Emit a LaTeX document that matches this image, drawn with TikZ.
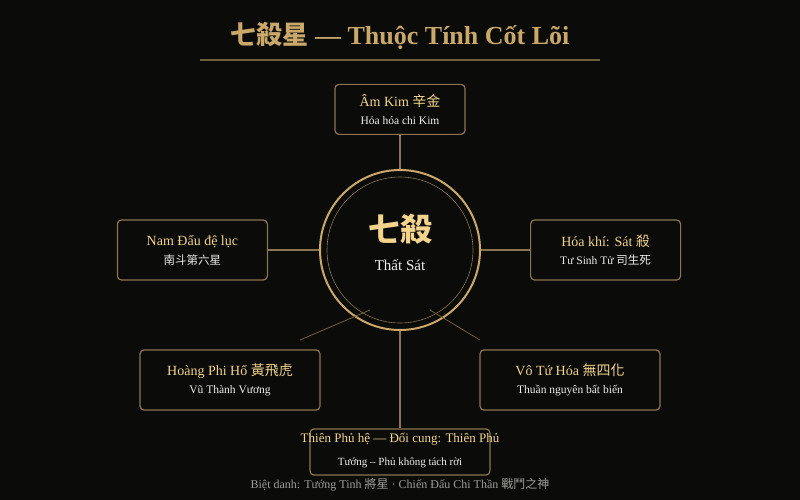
\documentclass[tikz,border=0pt]{standalone}
\usepackage{fontspec}
\setmainfont{Liberation Serif}
\newfontfamily\cjk{Noto Sans CJK TC}
\usetikzlibrary{positioning}
\definecolor{bgdark}{HTML}{0B0B09}
\definecolor{gold}{HTML}{C9A86A}
\definecolor{goldlt}{HTML}{F2D48C}
\definecolor{golddim}{HTML}{8A7552}
\definecolor{linedim}{HTML}{6E5E3E}
\definecolor{paper}{HTML}{EDEDEA}
\definecolor{muted}{HTML}{9C9C98}
\newcommand{\zh}[1]{{\cjk #1}}
\newcommand{\attrtext}[2]{{\fontsize{14}{17}\selectfont\color{goldlt}#1}\\[6pt]{\fontsize{11.5}{14}\selectfont\color{paper}#2}}
\tikzset{attrbox/.style={draw=golddim, line width=1.2pt, rounded corners=4, minimum width=150pt, minimum height=60pt, align=center, inner sep=1pt}}
\tikzset{widebox/.style={attrbox, minimum width=180pt}}
\tikzset{link/.style={draw=golddim, line width=1.2pt}}
\tikzset{thinlink/.style={draw=linedim, line width=0.8pt}}
\tikzset{corering/.style={circle, draw=gold, line width=2pt, minimum size=160pt, inner sep=0pt}}

\begin{document}
\begin{tikzpicture}[x=1pt, y=-1pt]
  \fill[bgdark] (0,0) rectangle (800,500);
  \useasboundingbox (0,0) rectangle (800,500);
  % title
  \node[text=gold, font=\fontsize{26}{30}\selectfont\bfseries] (title) at (400,36) {\zh{七殺星} — Thuộc Tính Cốt Lõi};
  \draw[draw=linedim, line width=1.5pt] (200,60) coordinate (ruleL) -- (600,60) coordinate (ruleR);
  % core
  \node[corering] (core) at (400,250) {};
  \draw[draw=golddim, line width=0.6pt] (core.center) circle (73pt);
  \node[text=goldlt, font=\fontsize{32}{35}\selectfont\bfseries\cjk] (coreZh) at (400,229) {七殺};
  \node[text=paper, font=\fontsize{15}{18}\selectfont] (coreVi) at (400,265) {Thất Sát};
  % attributes
  \node[attrbox, minimum width=130pt, minimum height=50pt, above=34pt of core] (metal) {\attrtext{Âm Kim \zh{辛金}}{Hỏa hóa chi Kim}};
  \node[attrbox, left=51pt of core] (south) {\attrtext{Nam Đẩu đệ lục}{\zh{南斗第六星}}};
  \node[attrbox, right=49pt of core] (killq) {\attrtext{Hóa khí: Sát \zh{殺}}{Tư Sinh Tử \zh{司生死}}};
  \node[widebox] (tiger) at (230,380) {\attrtext{Hoàng Phi Hổ \zh{黃飛虎}}{Vũ Thành Vương}};
  \node[widebox] (nohua) at (570,380) {\attrtext{Vô Tứ Hóa \zh{無四化}}{Thuần nguyên bất biến}};
  \node[widebox, minimum height=46pt] (fu) at (400,452) {};
  \node[text=goldlt, font=\fontsize{13}{16}\selectfont] (fuMain) at (400,439) {Thiên Phủ hệ — Đối cung: Thiên Phủ};
  \node[text=paper, font=\fontsize{11}{13}\selectfont] (fuSub) at (400,463) {Tướng – Phủ không tách rời};
  % links
  \draw[link] (metal) -- (core);
  \draw[link] (south) -- (core);
  \draw[link] (killq) -- (core);
  \draw[link] (core) -- (fu);
  \coordinate (tigerTip) at (300,340);
  \coordinate (tigerRoot) at (370,310);
  \coordinate (nohuaTip) at (480,340);
  \coordinate (nohuaRoot) at (430,310);
  \draw[thinlink] (tigerTip) -- (tigerRoot);
  \draw[thinlink] (nohuaTip) -- (nohuaRoot);
  % footer
  \node[text=muted, font=\fontsize{12}{14}\selectfont] (alias) at (400,485) {Biệt danh: Tướng Tinh \zh{將星} · Chiến Đấu Chi Thần \zh{戰鬥之神}};
\end{tikzpicture}
\end{document}
